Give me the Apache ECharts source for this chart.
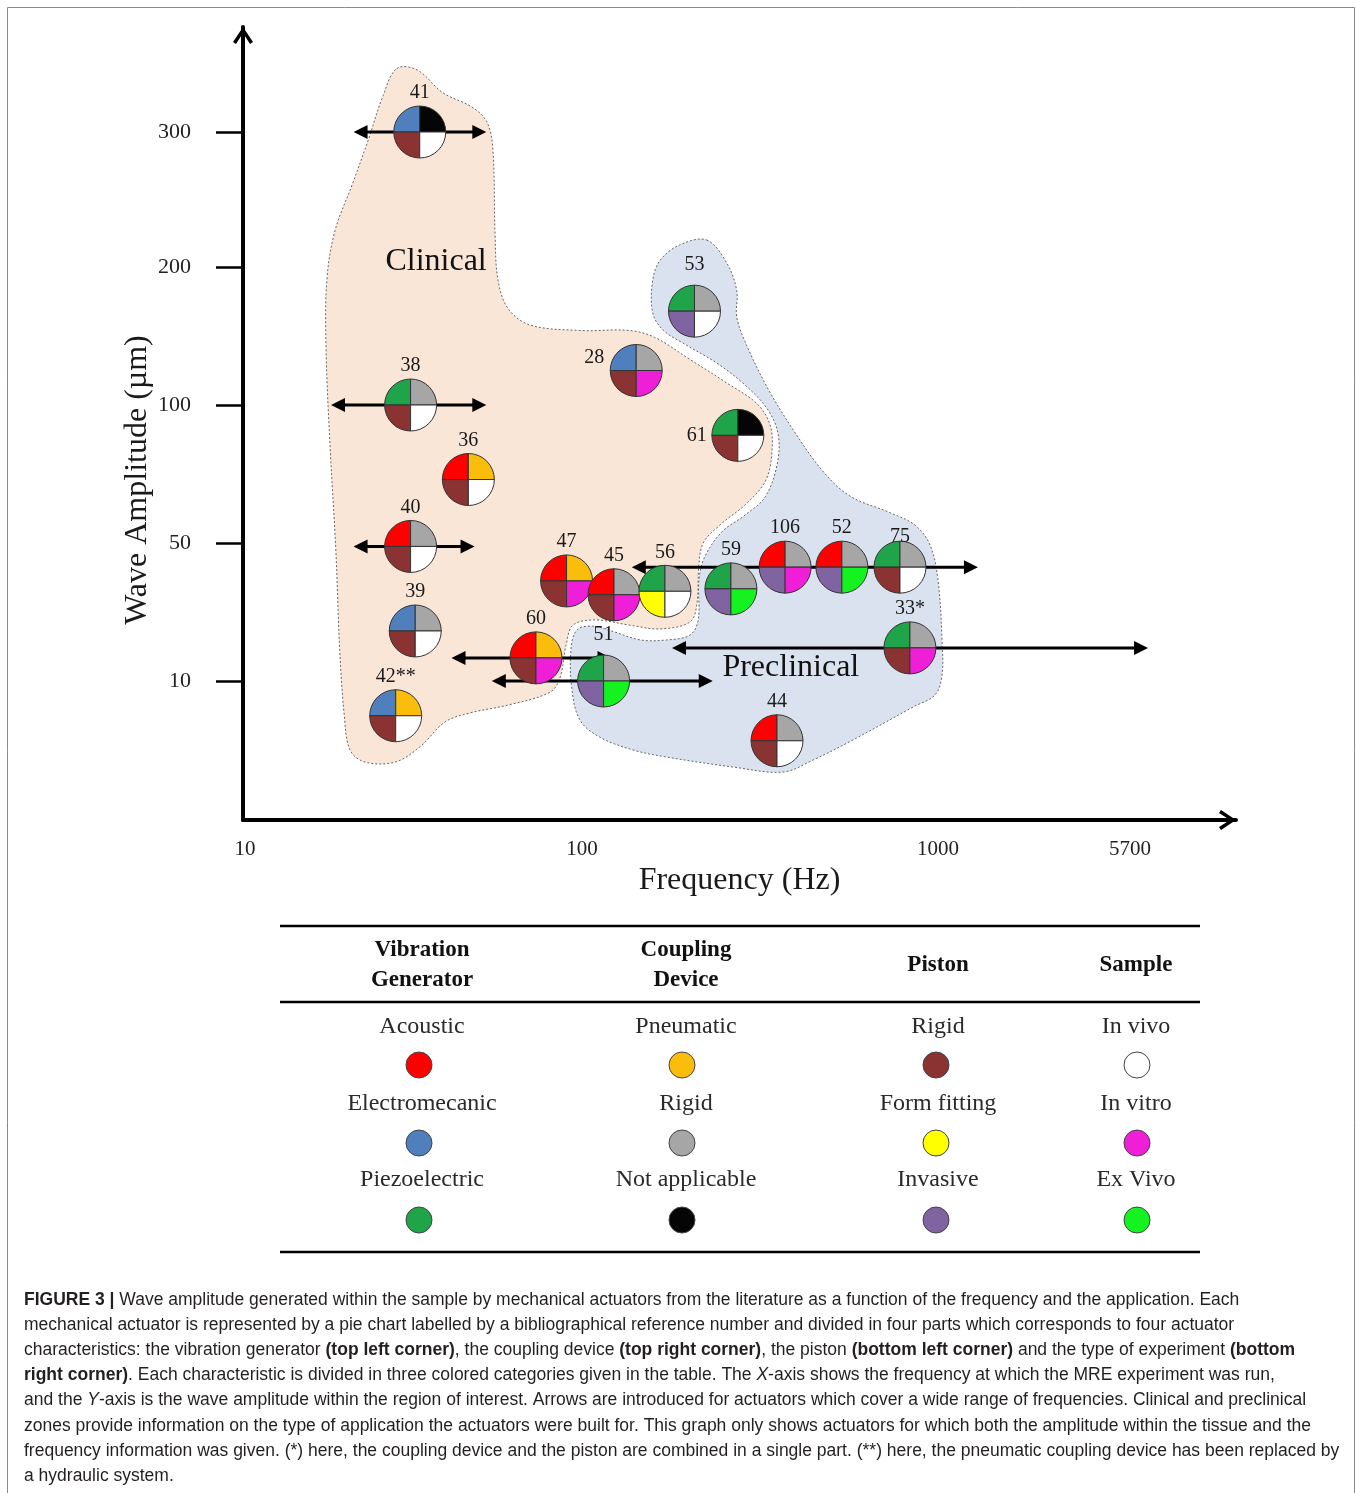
<!DOCTYPE html>
<html><head><meta charset="utf-8">
<script src="https://cdn.jsdelivr.net/npm/echarts@6/dist/echarts.min.js"></script>
<style>html,body{margin:0;padding:0;background:#fff}#c{width:1356px;height:1493px}</style>
</head><body><div id="c"></div>
<script>
// ================= DATA =================
// actuators (pie charts)
const refLabels = ['41','38','36','40','39','42**','28','61','53','47','45','56','59','106','52','75','33*','60','51','44'];
const freqHz    = [33, 31, 46, 31, 32, 28, 142, 274, 207, 90, 123, 171, 262, 372, 537, 782, 834, 73, 115, 353];
const ampUm     = [300, 100, 73, 49, 24.5, 7.5, 125, 89, 168, 39, 35, 36, 36.7, 43, 43, 43, 19.6, 16.7, 10, 5.7];
// category index per actuator
const vibGen    = [1,2,0,0,1,1,1,2,2,0,0,2,2,0,0,2,2,0,2,0];
const coupling  = [2,1,0,1,1,0,1,2,1,0,1,1,1,1,1,1,1,0,1,1];
const piston    = [0,0,0,0,0,0,0,0,2,0,0,1,2,2,2,0,0,0,2,0];
const sample    = [0,0,0,0,0,0,1,0,0,1,1,0,2,1,2,0,1,1,2,0];

// frequency-range arrows
const arrowAmpUm  = [300, 100, 49, 43, 19.6, 16.7, 10];
const arrowFromHz = [21, 18, 21, 138, 179, 41, 54];
const arrowToHz   = [52, 52, 48, 1436, 6714, 121, 233];

// zones (outline in Hz, µm)
const zoneNames = ['Clinical', 'Preclinical'];
const zoneLabelAt = [[36.9, 204], [386, 13.8]];
const clinicalOutline = [[28.2,347],[32.4,346],[38.7,329],[47.5,318],[52.3,307],[54.4,287],[55.2,225],[56.3,191],[60.3,170],[70.1,158],[98.6,154],[136,154],[160,149],[201,133],[255,116],[310,101],[337,93],[342,84],[329,73],[291,64.5],[244,56.5],[219,50],[213,43.6],[210,32],[201,27.1],[166,25.1],[136,26.2],[109,27.7],[94,26.2],[89.7,20.4],[86,10.9],[80.4,9.2],[61.1,8.3],[46.5,7.7],[39.2,7.05],[33,5.25],[27.9,4.17],[22.7,4.17],[20.5,5.04],[19.7,7.55],[19.1,19],[18.6,48],[17.9,84],[17.4,140],[17.5,191],[18.5,227],[20.8,261],[23.2,294],[25.7,327]];
const preclinicalOutline = [[224,220],[255,203],[272,183],[272,164],[287,146],[331,113],[392,91],[475,76],[566,67],[733,61],[861,56.5],[950,49.4],[1000,39.3],[1037,21.9],[1037,11.7],[981,9.0],[851,8.13],[577,5.76],[446,4.32],[367,3.45],[266,3.81],[173,4.53],[139,5.04],[112,5.97],[98.6,7.19],[93.4,9.35],[92.7,19],[96.6,24.8],[107,25.9],[121,24.5],[146,21.9],[173,21.9],[201,23.3],[212,27.7],[213,39.3],[221,45.9],[247,54],[287,60.1],[327,66.7],[353,78.3],[356,89.1],[333,98.2],[287,114.5],[239,130.4],[192,144.9],[169,154.3],[158,166.7],[158,190.6],[166,205.2],[188,216.3]];

// axis ticks
const xTickHz = [10, 100, 1000, 5700];
const xTickLabels = ['10', '100', '1000', '5700'];
const yTickUm = [10, 50, 100, 200, 300];
const yTickLabels = ['10', '50', '100', '200', '300'];

// table categories
const tableHeaders = ['Vibration\nGenerator', 'Coupling\nDevice', 'Piston', 'Sample'];
const genNames = ['Acoustic', 'Electromecanic', 'Piezoelectric'];
const couplingNames = ['Pneumatic', 'Rigid', 'Not applicable'];
const pistonNames = ['Rigid', 'Form fitting', 'Invasive'];
const sampleNames = ['In vivo', 'In vitro', 'Ex Vivo'];

// ================= STYLE =================
const GEN_COLORS  = ['#ff0000', '#4f7fbd', '#20a44a'];
const COUP_COLORS = ['#fbbd0b', '#a6a6a6', '#050505'];
const PIST_COLORS = ['#8b3232', '#ffff00', '#8064a2'];
const SAMP_COLORS = ['#ffffff', '#ee1fd6', '#14f31f'];
const ZONE_FILL = ['#fae6d7', '#dae2ef'];
const SERIF = '"Liberation Serif", "DejaVu Serif", serif';
const SANS = '"Liberation Sans", Arial, sans-serif';

// broken-scale axis: anchors of the drawn axis (position units = px from origin)
const X_ANCH_LOG = [1, 2, 3, Math.log10(5700)];
const X_ANCH_POS = [2, 339, 695, 887];
const Y_ANCH_UM  = [0, 10, 50, 100, 200, 300];
const Y_ANCH_POS = [0, 139, 277, 415, 553, 688];
function interp(v, xs, ys) {
  let i = 0;
  if (v >= xs[xs.length - 1]) i = xs.length - 2;
  else if (v > xs[0]) { while (v > xs[i + 1]) i++; }
  return ys[i] + (v - xs[i]) * (ys[i + 1] - ys[i]) / (xs[i + 1] - xs[i]);
}
const xPos = hz => interp(Math.log10(hz), X_ANCH_LOG, X_ANCH_POS);
const yPos = um => interp(um, Y_ANCH_UM, Y_ANCH_POS);
const xTickPos = xTickHz.map(xPos);
const yTickPos = yTickUm.map(yPos);
function lookup(v, poss, labels) {
  const k = poss.findIndex(p => Math.abs(p - v) < 0.5);
  return k >= 0 ? labels[k] : '';
}

const CHEVRON = 'path://M10,0 L20,15 L17,17 L10,6 L3,17 L0,15 Z';
const LABEL_OFFSET = { '28': [-42, -13], '61': [-41, 0], '75': [0, -30], '51': [0, -46], '53': [0, -46] };

function renderZone(params, api) {
  const idx = api.value(2);
  const outline = idx === 0 ? clinicalOutline : preclinicalOutline;
  const pts = outline.map(p => api.coord([xPos(p[0]), yPos(p[1])]));
  const c = api.coord([api.value(0), api.value(1)]);
  return {
    type: 'group',
    children: [
      { type: 'polygon', shape: { points: pts, smooth: 0.35 },
        style: { fill: ZONE_FILL[idx], stroke: '#666', lineWidth: 1, lineDash: [2, 2] } },
      { type: 'text', x: c[0], y: c[1],
        style: { text: zoneNames[idx], font: '32px ' + SERIF, fill: '#111', align: 'center', verticalAlign: 'middle' } }
    ]
  };
}

function renderArrow(params, api) {
  const p1 = api.coord([api.value(0), api.value(1)]);
  const p2 = api.coord([api.value(2), api.value(1)]);
  const L = 14, H = 7;
  const y = p1[1];
  return {
    type: 'group',
    children: [
      { type: 'line', shape: { x1: p1[0] + L - 1, y1: y, x2: p2[0] - L + 1, y2: y },
        style: { stroke: '#000', lineWidth: 3 } },
      { type: 'polygon', shape: { points: [[p1[0], y], [p1[0] + L, y - H], [p1[0] + L, y + H]] }, style: { fill: '#000' } },
      { type: 'polygon', shape: { points: [[p2[0], y], [p2[0] - L, y - H], [p2[0] - L, y + H]] }, style: { fill: '#000' } }
    ]
  };
}

function renderPie(params, api) {
  const i = api.value(2);
  const c = api.coord([api.value(0), api.value(1)]);
  const R = 26;
  const cols = [GEN_COLORS[vibGen[i]], COUP_COLORS[coupling[i]], PIST_COLORS[piston[i]], SAMP_COLORS[sample[i]]];
  const angles = [[Math.PI, 1.5 * Math.PI], [-0.5 * Math.PI, 0], [0.5 * Math.PI, Math.PI], [0, 0.5 * Math.PI]];
  const children = angles.map((a, k) => ({
    type: 'sector',
    shape: { cx: c[0], cy: c[1], r: R, r0: 0, startAngle: a[0], endAngle: a[1], clockwise: true },
    style: { fill: cols[k], stroke: '#333', lineWidth: 1 }
  }));
  const off = LABEL_OFFSET[refLabels[i]] || [0, -39];
  children.push({ type: 'text', x: c[0] + off[0], y: c[1] + off[1],
    style: { text: refLabels[i], font: '20px ' + SERIF, fill: '#1a1a1a', align: 'center', verticalAlign: 'middle' } });
  return { type: 'group', children };
}

// ================= GRAPHICS (title, table, caption, frame) =================
const graphics = [];
graphics.push({ type: 'rect', shape: { x: 7.5, y: 7.5, width: 1347, height: 1520 },
  style: { fill: 'none', stroke: '#8a8a8a', lineWidth: 1 }, silent: true });
graphics.push({ type: 'text', x: 138, y: 480, rotation: Math.PI / 2,
  style: { text: 'Wave Amplitude (µm)', font: '32px ' + SERIF, fill: '#1a1a1a', align: 'center', verticalAlign: 'middle' } });

// table
const colX = [422, 686, 938, 1136];
const circX = [419, 682, 936, 1137];
[926, 1002, 1252].forEach(y => graphics.push({ type: 'line', shape: { x1: 280, y1: y, x2: 1200, y2: y },
  style: { stroke: '#000', lineWidth: 2.5 } }));
tableHeaders.forEach((h, k) => graphics.push({ type: 'text', x: colX[k], y: 965,
  style: { text: h, font: 'bold 23px ' + SERIF, lineHeight: 30, fill: '#111', align: 'center', verticalAlign: 'middle' } }));
const tableCols = [[genNames, GEN_COLORS], [couplingNames, COUP_COLORS], [pistonNames, PIST_COLORS], [sampleNames, SAMP_COLORS]];
const rowTextY = [1027, 1104, 1180];
const rowCircY = [1065, 1143, 1220];
tableCols.forEach((col, k) => {
  col[0].forEach((name, r) => {
    graphics.push({ type: 'text', x: colX[k], y: rowTextY[r],
      style: { text: name, font: '24px ' + SERIF, fill: '#2a2a2a', align: 'center', verticalAlign: 'middle' } });
    graphics.push({ type: 'circle', shape: { cx: circX[k], cy: rowCircY[r], r: 13 },
      style: { fill: col[1][r], stroke: '#444', lineWidth: 1 } });
  });
});

// caption
const captionLines = [
  '{b|FIGURE 3 |} Wave amplitude generated within the sample by mechanical actuators from the literature as a function of the frequency and the application. Each',
  'mechanical actuator is represented by a pie chart labelled by a bibliographical reference number and divided in four parts which corresponds to four actuator',
  'characteristics: the vibration generator {b|(top left corner)}, the coupling device {b|(top right corner)}, the piston {b|(bottom left corner)} and the type of experiment {b|(bottom}',
  '{b|right corner)}. Each characteristic is divided in three colored categories given in the table. The {i|X}-axis shows the frequency at which the MRE experiment was run,',
  'and the {i|Y}-axis is the wave amplitude within the region of interest. Arrows are introduced for actuators which cover a wide range of frequencies. Clinical and preclinical',
  'zones provide information on the type of application the actuators were built for. This graph only shows actuators for which both the amplitude within the tissue and the',
  'frequency information was given. (*) here, the coupling device and the piston are combined in a single part. (**) here, the pneumatic coupling device has been replaced by',
  'a hydraulic system.'
];
const CAP_SIZE = 17.5;
captionLines.forEach((t, k) => graphics.push({ type: 'text', x: 24, y: 1300 + k * 25.15,
  style: { text: t, fontFamily: SANS, fontSize: CAP_SIZE, fill: '#231f20', align: 'left', verticalAlign: 'middle',
    rich: { b: { fontFamily: SANS, fontSize: CAP_SIZE, fontWeight: 'bold', fill: '#231f20' },
            i: { fontFamily: SANS, fontSize: CAP_SIZE, fontStyle: 'italic', fill: '#231f20' } } } }));

// ================= CHART =================
const chart = echarts.init(document.getElementById('c'), null, { renderer: 'canvas' });
chart.setOption({
  animation: false,
  backgroundColor: '#fff',
  grid: { left: 243, top: 27, width: 993, height: 793, outerBoundsMode: 'none' },
  xAxis: {
    type: 'value', min: 0, max: 993,
    splitLine: { show: false },
    axisLine: { show: true, onZero: false, symbol: ['none', CHEVRON], symbolSize: [20, 17], symbolOffset: [0, -8.5],
      lineStyle: { color: '#000', width: 4 } },
    axisTick: { show: false },
    axisLabel: { customValues: xTickPos, formatter: v => lookup(v, xTickPos, xTickLabels),
      fontFamily: SERIF, fontSize: 21, color: '#222', margin: 19 },
    name: 'Frequency (Hz)', nameLocation: 'middle', nameGap: 43,
    nameTextStyle: { fontFamily: SERIF, fontSize: 32, color: '#1a1a1a' }
  },
  yAxis: {
    type: 'value', min: 0, max: 793,
    splitLine: { show: false },
    axisLine: { show: true, onZero: false, symbol: ['none', CHEVRON], symbolSize: [20, 17], symbolOffset: [0, -8.5],
      lineStyle: { color: '#000', width: 4 } },
    axisTick: { show: true, customValues: yTickPos, length: 27, lineStyle: { color: '#000', width: 2.5 } },
    axisLabel: { customValues: yTickPos, formatter: v => lookup(v, yTickPos, yTickLabels),
      fontFamily: SERIF, fontSize: 22, color: '#222', margin: 52 }
  },
  series: [
    { type: 'custom', name: 'zones', z: 1, silent: true, renderItem: renderZone,
      encode: { x: 0, y: 1 },
      data: zoneNames.map((n, k) => [xPos(zoneLabelAt[k][0]), yPos(zoneLabelAt[k][1]), k]) },
    { type: 'custom', name: 'ranges', z: 2, silent: true, renderItem: renderArrow,
      encode: { x: [0, 2], y: 1 },
      data: arrowAmpUm.map((a, k) => [xPos(arrowFromHz[k]), yPos(a), xPos(arrowToHz[k]), k]) },
    { type: 'custom', name: 'actuators', z: 3, silent: true, renderItem: renderPie,
      encode: { x: 0, y: 1 },
      data: refLabels.map((r, i) => [xPos(freqHz[i]), yPos(ampUm[i]), i]) }
  ],
  graphic: { elements: graphics }
});
</script></body></html>
